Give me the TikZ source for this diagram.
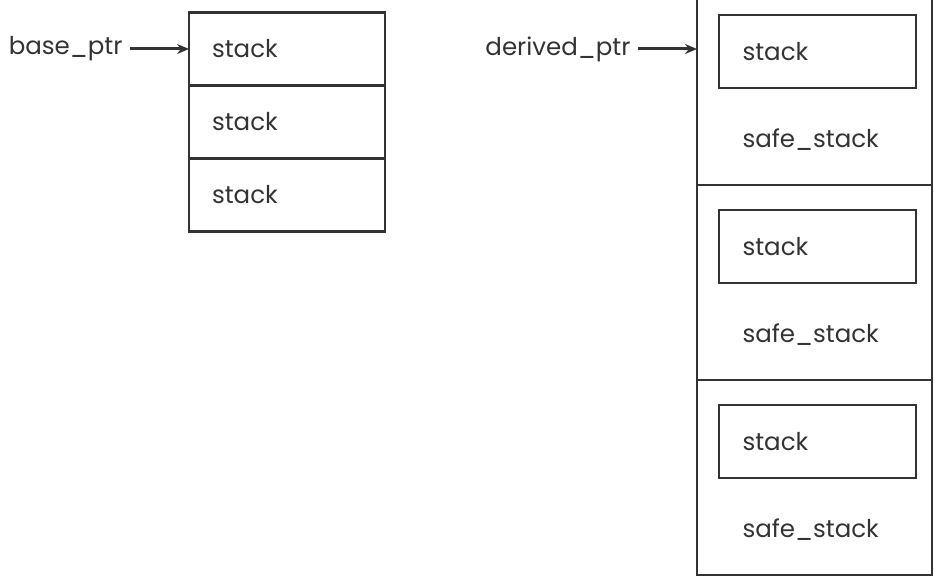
\documentclass[tikz,border=0pt]{standalone}
\usepackage{fontspec}
\setmainfont{Poppins}
\usepackage{tikz}
\usetikzlibrary{shapes,arrows,arrows.meta,calc,positioning}
\tikzstyle{tsLabel} = [ 
    text=black!80, 
    font=\fontsize{24.5}{28}\selectfont
]
\tikzstyle{tsCell} = [ 
    rectangle,
    tsLabel,
    draw=black!80,
    line width=2.5pt,
    outer sep=0pt,
    minimum width=196pt,
    minimum height=73pt,
    text width=150pt,
    inner xsep=23pt,
    align=left
]
\tikzstyle{tsSection} = [ 
    rectangle,
    draw=black!80,
    line width=2.5pt,
    outer sep=0pt,
    minimum width=235pt,
    minimum height=195pt
]
\tikzstyle{tsPointer} = [ 
    -{Stealth[length=12pt,width=10pt]},
    line width=3pt,
    shorten <=4pt,
    black!80
]

\begin{document}
\begin{tikzpicture}[x=1pt, y=-1pt]
        \useasboundingbox (0,0) rectangle (934,578);

        % Define nodes
        \node[tsCell] (base1) at (287,49) {stack};
        \node[tsCell, below=0pt of base1] (base2) {stack};
        \node[tsCell, below=0pt of base2] (base3) {stack};

        \node[tsLabel, anchor=east] (baseptr) at (126,49) {base\_ptr};

        \node[tsSection] (sec1) at (814.5,87.5) {};
        \node[tsSection] (sec2) at (814.5,282.5) {};
        \node[tsSection] (sec3) at (814.5,477.5) {};

        \node[tsCell, minimum width=197pt] (inner1) at (817.5,51.5) {stack};
        \node[tsCell, minimum width=197pt] (inner2) at (817.5,246.5) {stack};
        \node[tsCell, minimum width=197pt] (inner3) at (817.5,441.5) {stack};

        \node[tsLabel, anchor=west] (safe1) at (739,140) {safe\_stack};
        \node[tsLabel, anchor=west] (safe2) at (739,335) {safe\_stack};
        \node[tsLabel, anchor=west] (safe3) at (739,530) {safe\_stack};

        \node[tsLabel, anchor=east] (derivedptr) at (634,49) {derived\_ptr};

        \draw[tsPointer] (baseptr.east) -- (base1.west);
        \draw[tsPointer] (derivedptr.east) -- (derivedptr.east -| sec1.west);

    \end{tikzpicture}
\end{document}
